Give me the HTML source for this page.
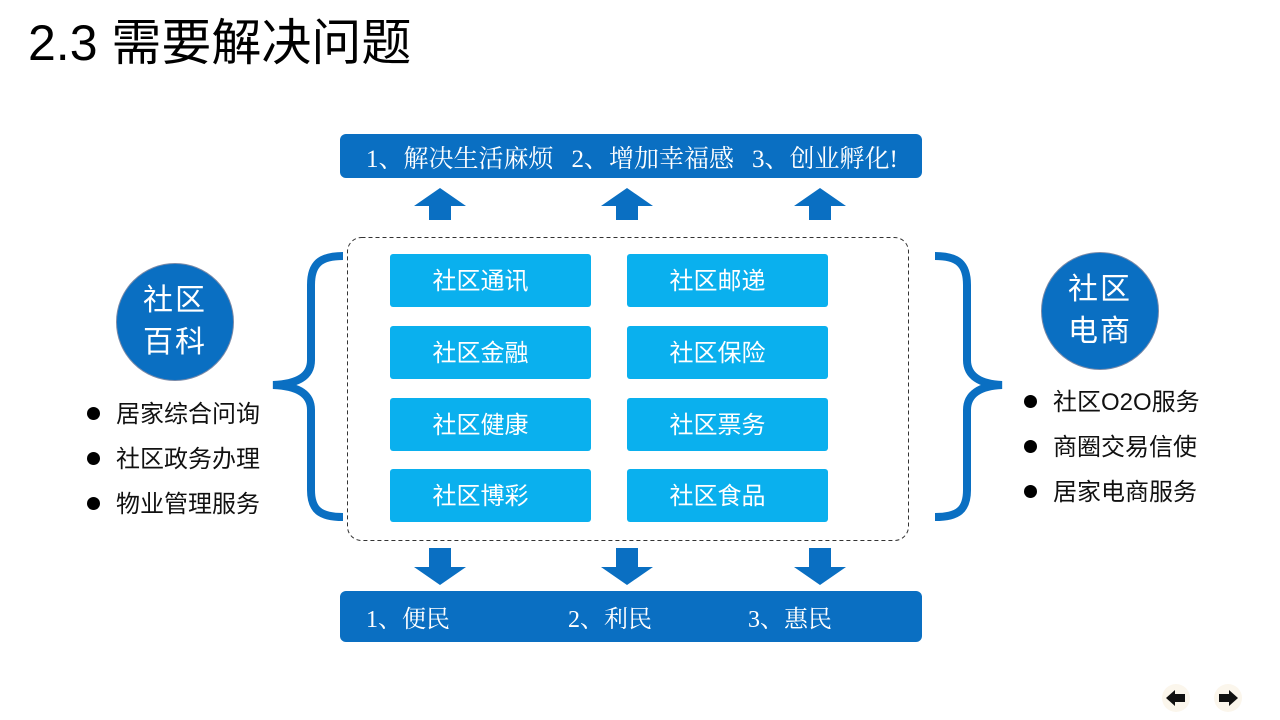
<!DOCTYPE html>
<html><head><meta charset="utf-8"><style>
body{margin:0;width:1280px;height:720px;background:#fff;position:relative;overflow:hidden;font-family:"Liberation Sans","Noto Sans CJK SC",sans-serif}
.a{position:absolute}
.bar{background:#0a6fc2;border-radius:6px;color:#fff;font-family:"Liberation Serif","Noto Serif CJK SC",serif;font-size:25px;line-height:51px}
.box{background:#0ab0ee;border-radius:3px;color:#fff;font-size:24px;text-align:center;width:201px;height:53px;line-height:56px;box-sizing:border-box;padding-right:20px;font-family:"Liberation Sans","Noto Sans CJK SC",sans-serif}
.circ{background:#0a6fc2;border:1.5px solid #7a8aa8;border-radius:50%;width:118px;height:118px;color:#fff;font-size:30px;text-align:center;line-height:42px;box-sizing:border-box;padding-top:16px;letter-spacing:2px}
.li{font-size:24px;color:#111;line-height:45px;font-family:"Liberation Sans","Noto Sans CJK SC",sans-serif}
.li span{display:inline-block;width:13px;height:13px;border-radius:50%;background:#000;margin-right:16px;vertical-align:2px}
</style></head><body>
<div class="a" style="left:28px;top:13px;font-size:50px;color:#000;line-height:60px">2.3 需要解决问题</div>

<div class="a bar" style="left:340px;top:134px;width:582px;height:44px;padding-left:26px;box-sizing:border-box;white-space:nowrap;overflow:hidden">1、解决生活麻烦<span style="display:inline-block;width:18px"></span>2、增加幸福感<span style="display:inline-block;width:18px"></span>3、创业孵化!</div>

<svg class="a" style="left:0;top:0" width="1280" height="720">
<g fill="#0a6fc2">
<polygon points="440,188 466,206 451,206 451,220 429,220 429,206 414,206"/>
<polygon points="627,188 653,206 638,206 638,220 616,220 616,206 601,206"/>
<polygon points="820,188 846,206 831,206 831,220 809,220 809,206 794,206"/>
<polygon points="440,585 466,567 451,567 451,548 429,548 429,567 414,567"/>
<polygon points="627,585 653,567 638,567 638,548 616,548 616,567 601,567"/>
<polygon points="820,585 846,567 831,567 831,548 809,548 809,567 794,567"/>
</g>
<rect x="347.5" y="237.5" width="561" height="303" rx="14" fill="none" stroke="#333" stroke-width="1" stroke-dasharray="4,3"/>
<path d="M343,256 C320,256 311,264 311,285 L311,360 C311,376 298,384 273,385 C298,386 311,394 311,410 L311,490 C311,510 320,517 343,517" fill="none" stroke="#0a6fc2" stroke-width="8"/>
<path d="M935,256 C958,256 967,264 967,285 L967,360 C967,376 980,384 1002,385 C980,386 967,394 967,410 L967,490 C967,510 958,517 935,517" fill="none" stroke="#0a6fc2" stroke-width="8"/>
<circle cx="1176" cy="698" r="14" fill="#fbf6ec"/>
<circle cx="1228" cy="698" r="14" fill="#fbf6ec"/>
<polygon points="1166,698 1175,690 1175,694 1185,694 1185,702 1175,702 1175,706" fill="#111"/>
<polygon points="1238,698 1229,690 1229,694 1219,694 1219,702 1229,702 1229,706" fill="#111"/>
</svg>

<div class="a box" style="left:390px;top:254px">社区通讯</div>
<div class="a box" style="left:627px;top:254px">社区邮递</div>
<div class="a box" style="left:390px;top:326px">社区金融</div>
<div class="a box" style="left:627px;top:326px">社区保险</div>
<div class="a box" style="left:390px;top:398px">社区健康</div>
<div class="a box" style="left:627px;top:398px">社区票务</div>
<div class="a box" style="left:390px;top:469px">社区博彩</div>
<div class="a box" style="left:627px;top:469px">社区食品</div>

<div class="a bar" style="left:340px;top:591px;width:582px;height:51px;font-size:24px;line-height:58px">
<span class="a" style="left:26px">1、便民</span><span class="a" style="left:228px">2、利民</span><span class="a" style="left:408px">3、惠民</span></div>

<div class="a circ" style="left:116px;top:263px">社区<br>百科</div>
<div class="a circ" style="left:1041px;top:252px">社区<br>电商</div>

<div class="a li" style="left:87px;top:392px"><span></span>居家综合问询<br><span></span>社区政务办理<br><span></span>物业管理服务</div>
<div class="a li" style="left:1024px;top:380px"><span></span>社区O2O服务<br><span></span>商圈交易信使<br><span></span>居家电商服务</div>
</body></html>
